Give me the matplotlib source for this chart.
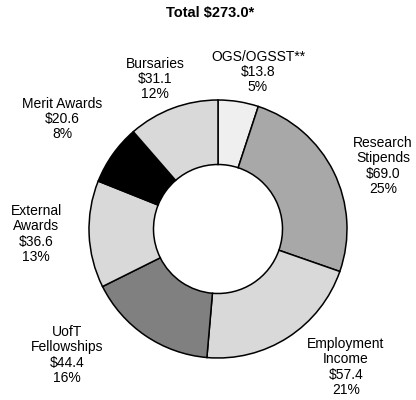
import matplotlib.pyplot as plt

# funding sources, clockwise from the top
labels = ["OGS/OGSST**", "Research\nStipends", "Employment\nIncome", "UofT\nFellowships",
          "External\nAwards", "Merit Awards", "Bursaries"]
amounts = [13.8, 69.0, 57.4, 44.4, 36.6, 20.6, 31.1]
shares = [5, 25, 21, 16, 13, 8, 12]
colors = ["#efefef", "#a8a8a8", "#d9d9d9", "#808080", "#d9d9d9", "#000000", "#d9d9d9"]

# label centres in pixels (x, y from top)
label_pos = [(258, 72), (383, 166), (346, 367), (67, 355), (36, 234), (62, 119), (155, 79)]

W, H = 416, 400
fig = plt.figure(figsize=(W / 100, H / 100), dpi=100)
plt.rcParams['font.family'] = ['Liberation Sans', 'DejaVu Sans']

# donut centred at (218, 229) px, radius 129 px
r = 129
lim = 1.03
ax = fig.add_axes([(218 - r * lim) / W, (H - 229 - r * lim) / H, 2 * r * lim / W, 2 * r * lim / H])
ax.pie(amounts, colors=colors, startangle=90, counterclock=False, radius=1,
       wedgeprops={'width': 0.5, 'edgecolor': 'black', 'linewidth': 1.1})
ax.set_xlim(-lim, lim)
ax.set_ylim(-lim, lim)
ax.set_aspect('equal')
ax.axis('off')

for lab, amt, pct, (px, py) in zip(labels, amounts, shares, label_pos):
    fig.text(px / W, 1 - py / H, f"{lab}\n${amt:.1f}\n{pct}%", ha='center', va='center',
             fontsize=10, linespacing=1.1)

fig.text(210 / W, 1 - 13 / H, "Total $273.0*", ha='center', va='center',
         fontsize=10.5, fontweight='bold')

fig.savefig("out.png", dpi=100)
